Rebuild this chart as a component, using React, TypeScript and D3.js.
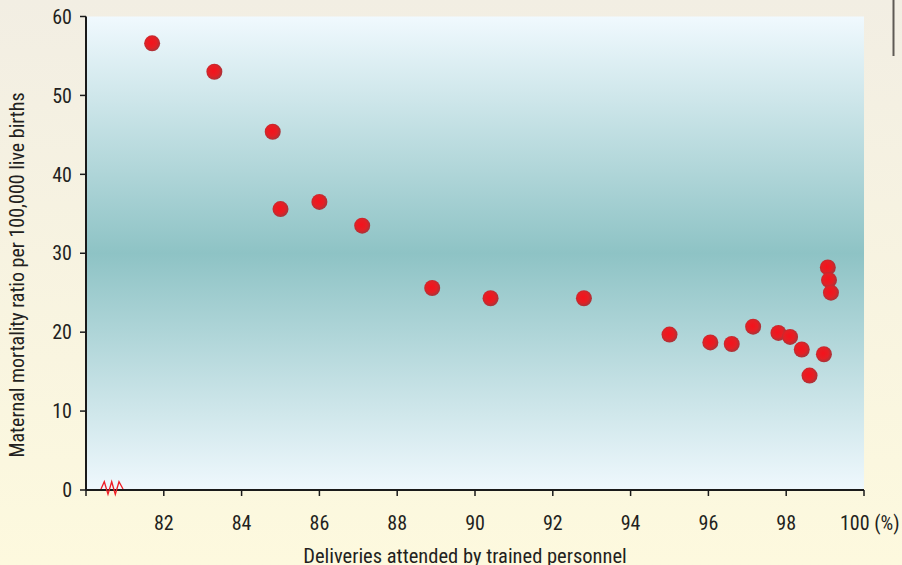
import React from "react";
import * as d3 from "d3";

const attended = [81.7, 83.3, 84.8, 85.0, 86.0, 87.1, 88.9, 90.4, 92.8, 95.0, 96.05, 96.6, 97.15, 97.8, 98.1, 98.4, 98.6, 98.97, 99.07, 99.1, 99.15];
const mortality = [56.6, 53.0, 45.4, 35.6, 36.5, 33.5, 25.6, 24.3, 24.3, 19.7, 18.7, 18.5, 20.7, 19.9, 19.4, 17.8, 14.5, 17.2, 28.2, 26.6, 25.0];
const xTicks = [80, 82, 84, 86, 88, 90, 92, 94, 96, 98, 100];
const xTickLabels = ["", "82", "84", "86", "88", "90", "92", "94", "96", "98", "100 (%)"];
const yTicks = [0, 10, 20, 30, 40, 50, 60];

const W = 902, H = 565;
const font = "'Liberation Sans Narrow', 'Roboto Condensed', 'Arial Narrow', 'Liberation Sans', sans-serif";

export default function App() {
  const x = d3.scaleLinear().domain([80, 100]).range([86, 864]);
  const y = d3.scaleLinear().domain([0, 60]).range([490, 16.5]);
  const brk = d3.line()([[101, 489], [104.3, 481.7], [108, 494.3], [111.7, 481.7], [115.3, 494.3], [119, 481.7], [123, 489]]);
  return (
    <svg width={W} height={H} style={{ position: "absolute", left: 0, top: 0 }}>
      <defs>
        <linearGradient id="pg" x1="0" y1="0" x2="0" y2="1">
          <stop offset="0" stopColor="#f2eee3" />
          <stop offset="1" stopColor="#fdf9de" />
        </linearGradient>
        <linearGradient id="plot" x1="0" y1="0" x2="0" y2="1">
          <stop offset="0" stopColor="#f0f9fe" />
          <stop offset="0.5" stopColor="#8ec3c5" />
          <stop offset="1" stopColor="#eff8fd" />
        </linearGradient>
        <radialGradient id="dot" cx="0.45" cy="0.45" r="0.55">
          <stop offset="0" stopColor="#f5121c" />
          <stop offset="0.6" stopColor="#e41f24" />
          <stop offset="1" stopColor="#a8343a" />
        </radialGradient>
      </defs>
      <rect x={0} y={0} width={W} height={H} fill="url(#pg)" />
      <rect x={x(80)} y={y(60)} width={x(100) - x(80)} height={y(0) - y(60)} fill="url(#plot)" />
      <line x1={893.5} x2={893.5} y1={0} y2={56} stroke="#5f5a55" strokeWidth={2} />
      <line x1={x(80)} x2={x(80)} y1={y(60)} y2={y(0)} stroke="#1a1a1a" strokeWidth={2} />
      <line x1={x(80)} x2={x(100)} y1={y(0)} y2={y(0)} stroke="#1a1a1a" strokeWidth={2} />
      {yTicks.map((t) => (
        <g key={"y" + t}>
          <line x1={80} x2={x(80)} y1={y(t)} y2={y(t)} stroke="#1a1a1a" strokeWidth={1.5} />
          <text x={72} y={y(t)} dy="0.36em" textAnchor="end" fontFamily={font} fontSize={20} fill="#231f20">{t}</text>
        </g>
      ))}
      {xTicks.map((t, i) => (
        <g key={"x" + t}>
          <line x1={x(t)} x2={x(t)} y1={y(0)} y2={y(0) + 6} stroke="#1a1a1a" strokeWidth={1.5} />
          {xTickLabels[i] && (
            <text x={t === 100 ? x(t) - 24 : x(t)} y={530} textAnchor={t === 100 ? "start" : "middle"} fontFamily={font} fontSize={20} fill="#231f20">{xTickLabels[i]}</text>
          )}
        </g>
      ))}
      <path d={brk || ""} fill="none" stroke="#ee1c24" strokeWidth={1.3} />
      {attended.map((a, i) => (
        <circle key={i} cx={x(a)} cy={y(mortality[i])} r={8} fill="url(#dot)" />
      ))}
      <text x={465} y={563} textAnchor="middle" fontFamily={font} fontSize={20.5} fill="#231f20">Deliveries attended by trained personnel</text>
      <text transform={`translate(24,275) rotate(-90)`} textAnchor="middle" fontFamily={font} fontSize={20} fill="#231f20">Maternal mortality ratio per 100,000  live births</text>
    </svg>
  );
}
